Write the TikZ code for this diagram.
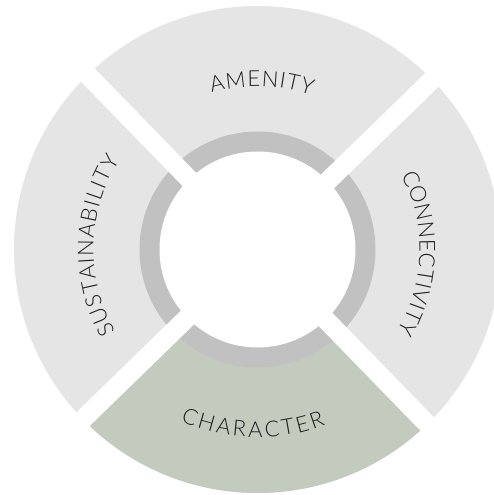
\documentclass[tikz,border=0pt]{standalone}
\usepackage{fontspec}
\setmainfont{Lato}[UprightFont=* Light]
\usetikzlibrary{decorations.text}
\definecolor{segA}{RGB}{229,229,229}
\definecolor{ringC}{RGB}{193,193,193}
\definecolor{segG}{RGB}{195,203,191}
\definecolor{txtC}{RGB}{30,30,30}
\newcommand{\lblfont}{\fontsize{22}{22}\selectfont\color{txtC}}
\tikzset{
  arclabel/.style={decorate,decoration={text along path,text align=center,text={|\lblfont|#1}}},
  gapband/.style={fill=white}
}
\begin{document}
\begin{tikzpicture}[x=1pt,y=1pt]
\useasboundingbox (-257.5,-245.5) rectangle (236.5,249.5);
\clip (-257.5,-245.5) rectangle (236.5,249.5);
% segments
\fill[segA] (0,0) circle[radius=243.5];
\fill[segG] (0,0) -- (224.2:243.5) arc[start angle=224.2,end angle=314.2,radius=243.5] -- cycle;
% inner ring
\fill[ringC] (0,0) circle[radius=118];
\fill[white] (0,0) circle[radius=98];
% gaps
\foreach \a in {44.2,134.2}
  \fill[gapband,rotate=\a] (-300,-9.5) rectangle (300,9.5);
% labels
\path[arclabel={{A\kern1pt}{M\kern1pt}{E\kern1pt}{N\kern1pt}{I\kern1pt}{T\kern1pt}Y}] (178.5:163) arc[start angle=178.5,end angle=-1.5,radius=163];
\path[arclabel={{C\kern0.5pt}{O\kern0.5pt}{N\kern0.5pt}{N\kern0.5pt}{E\kern0.5pt}{C\kern0.5pt}{T\kern0.5pt}{I\kern0.5pt}{V\kern0.5pt}{I\kern0.5pt}{T\kern0.5pt}Y}] (88.5:162) arc[start angle=88.5,end angle=-91.5,radius=162];
\path[arclabel={{S\kern1.1pt}{U\kern1.1pt}{S\kern1.1pt}{T\kern1.1pt}{A\kern1.1pt}{I\kern1.1pt}{N\kern1.1pt}{A\kern1.1pt}{B\kern1.1pt}{I\kern1.1pt}{L\kern1.1pt}{I\kern1.1pt}{T\kern1.1pt}Y}] (268.5:164) arc[start angle=268.5,end angle=88.5,radius=164];
\path[arclabel={{C\kern2.7pt}{H\kern2.7pt}{A\kern2.7pt}{R\kern2.7pt}{A\kern2.7pt}{C\kern2.7pt}{T\kern2.7pt}{E\kern2.7pt}R}] (178.5:188) arc[start angle=178.5,end angle=358.5,radius=188];
\end{tikzpicture}
\end{document}
